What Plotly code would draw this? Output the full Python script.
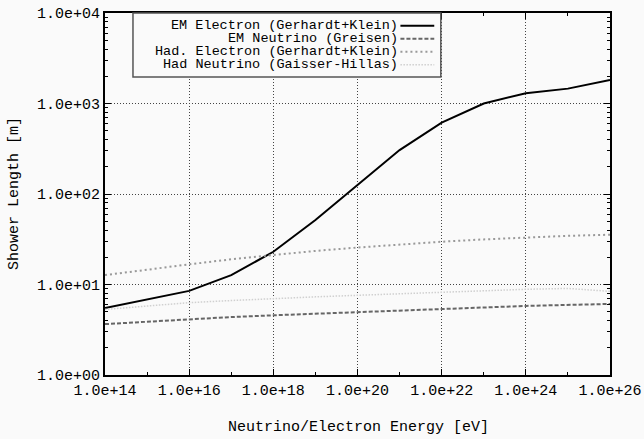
import plotly.graph_objects as go

energy = [1e14, 1e15, 1e16, 1e17, 1e18, 1e19, 1e20, 1e21, 1e22, 1e23, 1e24, 1e25, 1e26]
em_electron = [5.5, 6.9, 8.5, 12.7, 23.0, 51.5, 126, 306, 614, 1000, 1300, 1460, 1820]
em_neutrino = [3.65, 3.9, 4.15, 4.37, 4.57, 4.77, 4.97, 5.17, 5.37, 5.57, 5.8, 5.97, 6.1]
had_electron = [12.7, 14.7, 16.7, 19.0, 21.2, 23.5, 25.6, 27.7, 29.7, 31.5, 33.2, 34.5, 35.5]
had_neutrino = [5.3, 5.8, 6.3, 6.65, 7.0, 7.3, 7.6, 7.9, 8.25, 8.55, 8.85, 9.05, 8.4]

names = ["EM Electron (Gerhardt+Klein)", "EM Neutrino (Greisen)",
         "Had. Electron (Gerhardt+Klein)", "Had Neutrino (Gaisser-Hillas)"]
series = [em_electron, em_neutrino, had_electron, had_neutrino]
styles = [dict(color="#000000", width=2, dash="solid"),
          dict(color="#666666", width=2, dash="4px,2px"),
          dict(color="#999999", width=2, dash="2px,3px"),
          dict(color="#d0d0d0", width=1.5, dash="1.5px,1.5px")]

x_ticks = [1e14, 1e16, 1e18, 1e20, 1e22, 1e24, 1e26]
x_ticktext = ["1.0e+14", "1.0e+16", "1.0e+18", "1.0e+20", "1.0e+22", "1.0e+24", "1.0e+26"]
y_ticks = [1.0, 10.0, 100.0, 1000.0, 10000.0]
y_ticktext = ["1.0e+00", "1.0e+01", "1.0e+02", "1.0e+03", "1.0e+04"]
x_title = "Neutrino/Electron Energy [eV]"
y_title = "Shower Length [m]"

FONT = "Liberation Mono"

fig = go.Figure()
for name, vals, st in zip(names, series, styles):
    fig.add_trace(go.Scatter(x=energy, y=vals, mode="lines", name=name,
                             line=st, showlegend=False))

x_minor = [10.0 ** e for e in range(15, 26, 2)]
y_minor = [m * 10.0 ** e for e in range(0, 4) for m in range(2, 10)]

common = dict(ticks="inside", ticklen=6, tickwidth=1, tickcolor="black",
              showline=True, linecolor="black", linewidth=2, mirror="allticks",
              showgrid=True, gridcolor="#444444", griddash="1px,2px", gridwidth=1,
              zeroline=False, automargin=False,
              tickfont=dict(family=FONT, size=15, color="black"))
fig.update_xaxes(type="log", range=[14, 26], tickvals=x_ticks, ticktext=x_ticktext,
                 minor=dict(tickvals=x_minor, ticks="inside", ticklen=3, tickcolor="black", showgrid=False),
                 **common)
fig.update_yaxes(type="log", range=[0, 4], tickvals=y_ticks, ticktext=y_ticktext,
                 minor=dict(tickvals=y_minor, ticks="inside", ticklen=3, tickcolor="black", showgrid=False),
                 **common)

fig.add_annotation(x=0.501, y=-0.145, xref="paper", yref="paper", text=x_title, showarrow=False,
                   xanchor="center", yanchor="middle", font=dict(family=FONT, size=15, color="black"))
fig.add_annotation(x=-0.18, y=0.5, xref="paper", yref="paper", text=y_title, showarrow=False,
                   textangle=-90, xanchor="center", yanchor="middle",
                   font=dict(family=FONT, size=15, color="black"))

# legend box (gnuplot style: text right-aligned, sample at right)
fig.add_shape(type="rect", xref="paper", yref="paper", x0=0.0554, x1=0.665, y0=0.8232, y1=1.0,
              line=dict(color="#555555", width=1.5), fillcolor="#fafafa", layer="above")
ys = [0.965, 0.929, 0.893, 0.857]
for name, st, yy in zip(names, styles, ys):
    fig.add_annotation(x=0.583, y=yy, xref="paper", yref="paper", text=name, showarrow=False,
                       xanchor="right", yanchor="middle", borderpad=0,
                       font=dict(family=FONT, size=13.5, color="black"))
    fig.add_shape(type="line", xref="paper", yref="paper", x0=0.585, x1=0.652, y0=yy, y1=yy,
                  line=st, layer="above")

fig.update_layout(width=644, height=439, margin=dict(l=105, r=34, t=13, b=64),
                  paper_bgcolor="#fafafa", plot_bgcolor="#fafafa",
                  font=dict(family=FONT, color="black"))

fig.write_html("out.html")
